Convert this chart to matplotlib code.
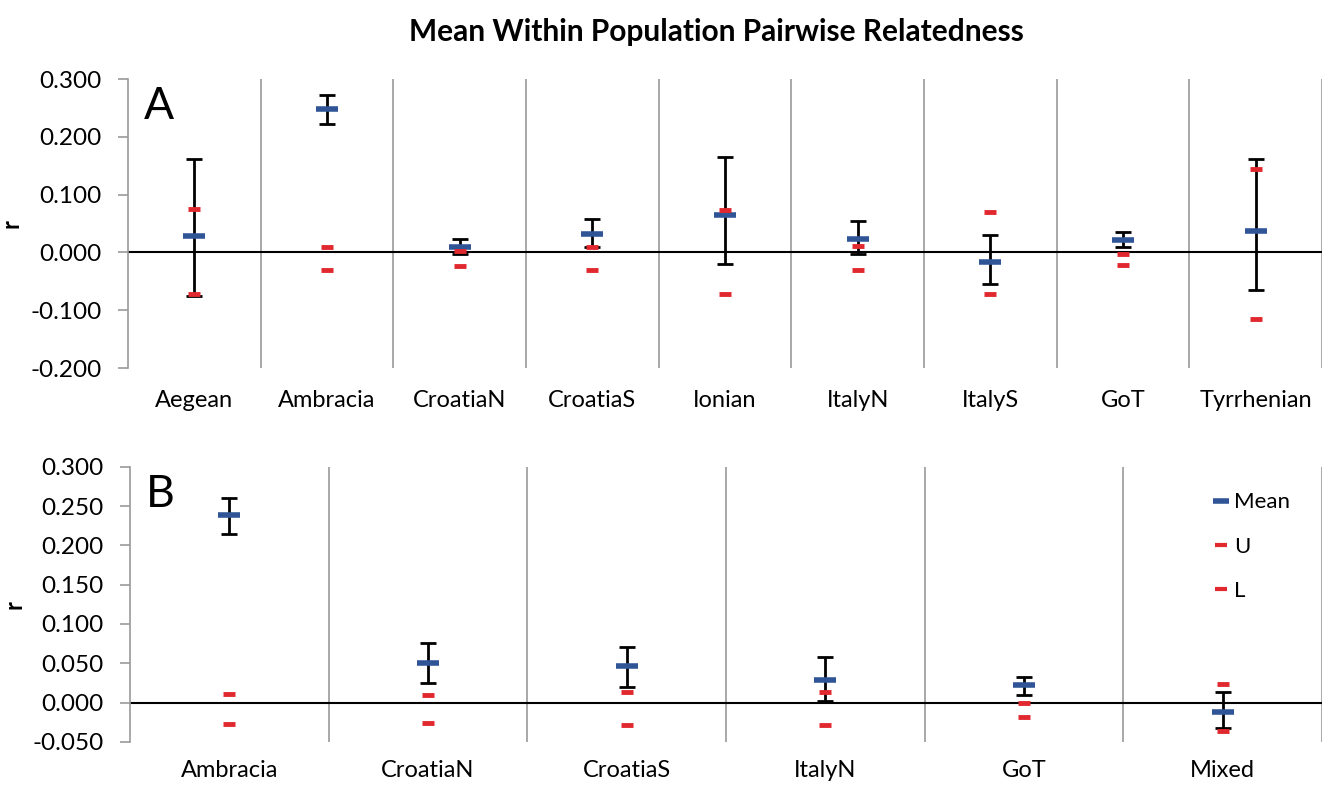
import numpy as np
import matplotlib.pyplot as plt
from matplotlib.lines import Line2D

plt.rcParams['font.family'] = ['Lato', 'DejaVu Sans']

# Panel A
pops_a = ['Aegean', 'Ambracia', 'CroatiaN', 'CroatiaS', 'Ionian', 'ItalyN', 'ItalyS', 'GoT', 'Tyrrhenian']
mean_a = [0.029, 0.248, 0.009, 0.032, 0.065, 0.023, -0.017, 0.021, 0.038]
err_hi_a = [0.162, 0.272, 0.024, 0.058, 0.165, 0.055, 0.031, 0.035, 0.161]
err_lo_a = [-0.075, 0.223, -0.003, 0.010, -0.020, -0.002, -0.055, 0.010, -0.065]
u_a = [0.076, 0.010, 0.003, 0.009, 0.073, 0.011, 0.070, -0.003, 0.145]
l_a = [-0.072, -0.031, -0.023, -0.030, -0.072, -0.030, -0.072, -0.021, -0.115]

# Panel B
pops_b = ['Ambracia', 'CroatiaN', 'CroatiaS', 'ItalyN', 'GoT', 'Mixed']
mean_b = [0.239, 0.050, 0.046, 0.029, 0.022, -0.012]
err_hi_b = [0.261, 0.076, 0.071, 0.058, 0.033, 0.013]
err_lo_b = [0.215, 0.025, 0.020, 0.002, 0.010, -0.033]
u_b = [0.011, 0.010, 0.014, 0.014, -0.001, 0.024]
l_b = [-0.027, -0.026, -0.029, -0.029, -0.018, -0.036]

blue = '#2F5597'
red = '#E0282E'
gray = '#9A9A9A'

fig = plt.figure(figsize=(13.26, 7.9), dpi=100)
ax_a = fig.add_axes([0.0965, 0.534, 0.9005, 0.366])
ax_b = fig.add_axes([0.098, 0.061, 0.899, 0.348])


def draw_panel(ax, pops, mean, lo, hi, u, l, ylim, ticks, letter):
    x = np.arange(len(pops))
    mean = np.array(mean)
    yerr = [mean - np.array(lo), np.array(hi) - mean]
    ax.errorbar(x, mean, yerr=yerr, fmt='none', ecolor='black', elinewidth=2,
                capsize=6, capthick=2, zorder=3)
    ax.plot(x, mean, linestyle='none', marker='_', markersize=16, mew=4,
            color=blue, zorder=4, label='Mean')
    ax.plot(x, u, linestyle='none', marker='_', markersize=9, mew=3.5,
            color=red, zorder=5, label='U')
    ax.plot(x, l, linestyle='none', marker='_', markersize=9, mew=3.5,
            color=red, zorder=5, label='L')
    ax.axhline(0, color='black', lw=1.5, zorder=2)
    for k in range(len(pops)):
        ax.axvline(k + 0.5, color=gray, lw=1.2, zorder=1)
    ax.set_xlim(-0.5, len(pops) - 0.5)
    ax.set_ylim(*ylim)
    ax.set_yticks(ticks)
    ax.set_yticklabels(['%.3f' % t for t in ticks], fontsize=17.5)
    ax.set_xticks(x)
    ax.set_xticklabels(pops, fontsize=17)
    ax.tick_params(axis='x', length=0, pad=16)
    ax.tick_params(axis='y', length=7, color=gray, width=1.2, direction='out', pad=12)
    for s in ['top', 'right', 'bottom']:
        ax.spines[s].set_visible(False)
    ax.spines['left'].set_color(gray)
    ax.spines['left'].set_linewidth(1.2)
    ax.set_ylabel('r', fontsize=17, fontweight='bold')
    ax.yaxis.set_label_coords(-0.088, 0.5)
    ax.text(0.013, 0.975, letter, transform=ax.transAxes, fontsize=32,
            va='top', ha='left')


draw_panel(ax_a, pops_a, mean_a, err_lo_a, err_hi_a, u_a, l_a,
           (-0.2, 0.3), np.arange(-0.2, 0.301, 0.1), 'A')
draw_panel(ax_b, pops_b, mean_b, err_lo_b, err_hi_b, u_b, l_b,
           (-0.05, 0.3), np.arange(-0.05, 0.301, 0.05), 'B')
ax_b.tick_params(axis='x', pad=13)

handles = [Line2D([], [], linestyle='none', marker='_', markersize=12, mew=4, color=blue),
           Line2D([], [], linestyle='none', marker='_', markersize=8, mew=3, color=red),
           Line2D([], [], linestyle='none', marker='_', markersize=8, mew=3, color=red)]
ax_b.legend(handles, ['Mean', 'U', 'L'], loc='upper right', bbox_to_anchor=(0.99, 0.98),
            frameon=False, fontsize=16, labelspacing=1.1, handlelength=0.8,
            handletextpad=0.2)

fig.suptitle('Mean Within Population Pairwise Relatedness', fontsize=21.5,
             fontweight='bold', x=0.54, y=0.977)

fig.savefig('out.png', dpi=100)
